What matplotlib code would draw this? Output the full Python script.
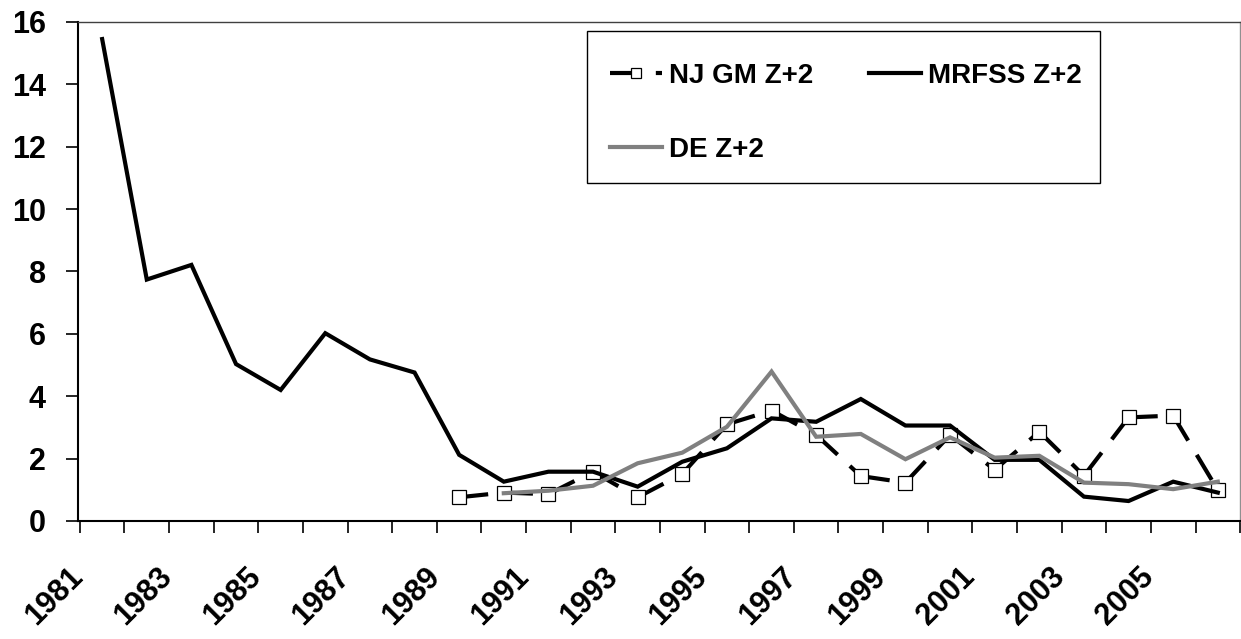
import matplotlib
matplotlib.use("Agg")
import matplotlib.pyplot as plt
from matplotlib.lines import Line2D
from matplotlib.patches import Rectangle
from matplotlib.ticker import FixedLocator
import numpy as np

plt.rcParams['font.family'] = ['Liberation Sans', 'DejaVu Sans']

# Annual index values (Z+2) by survey
years = list(range(1981, 2007))
mrfss = [15.45, 7.74, 8.21, 5.03, 4.20, 6.02, 5.18, 4.76, 2.12, 1.26, 1.58, 1.58, 1.10,
         1.90, 2.33, 3.29, 3.18, 3.91, 3.06, 3.06, 1.96, 1.96, 0.78, 0.64, 1.26, 0.91]
nj_years = list(range(1989, 2007))
nj_gm = [0.76, 0.91, 0.86, 1.58, 0.76, 1.51, 3.10, 3.54, 2.76, 1.44, 1.23, 2.76,
         1.64, 2.86, 1.45, 3.32, 3.38, 0.99]
de_years = list(range(1990, 2007))
de = [0.89, 0.97, 1.13, 1.85, 2.19, 3.02, 4.79, 2.70, 2.79, 1.98, 2.68, 2.03, 2.09,
      1.23, 1.18, 1.02, 1.26]
year_labels = [str(y) for y in years[::2]]

fig = plt.figure(figsize=(12.41, 6.39), dpi=100)
ax = fig.add_axes([0.0629, 0.1847, 0.9364, 0.781])

def pos(ys):
    return [y - years[0] for y in ys]

NJ_DASH = (7, 4)
nj_x = pos(nj_years)
# long-dash pattern restarts at every point along the NJ series
for i in range(len(nj_x) - 1):
    ax.plot(nj_x[i:i + 2], nj_gm[i:i + 2], color='black', lw=3.0, dashes=NJ_DASH,
            dash_capstyle='butt', zorder=3)
ax.plot(nj_x, nj_gm, linestyle='none', marker='s', markersize=9.4,
        markerfacecolor='white', markeredgecolor='black', markeredgewidth=0.9,
        zorder=3.5)
l_mr, = ax.plot(pos(years), mrfss, color='black', lw=3.0, zorder=4,
                label='MRFSS Z+2', solid_joinstyle='miter')
l_de, = ax.plot(pos(de_years), de, color='#808080', lw=3.0, zorder=5,
                label='DE Z+2', solid_joinstyle='miter')
l_nj = Line2D([], [], color='black', lw=3.0, dashes=NJ_DASH, marker='s',
              markersize=7, markerfacecolor='white', markeredgecolor='black',
              markeredgewidth=0.9)

ax.set_xlim(-0.5, len(years) - 0.5)
ax.set_ylim(0, 16)
ax.set_yticks(np.arange(0, 17, 2))
ax.tick_params(axis='y', length=8.6, width=1.2, pad=14.5, labelsize=22)
for t in ax.get_yticklabels():
    t.set_fontweight('bold')

# category boundaries carry the tick marks, labels sit on every other year
ax.xaxis.set_minor_locator(FixedLocator(np.arange(-0.5, len(years), 1.0)))
ax.set_xticks([p - 0.54 for p in pos(years[::2])])
ax.set_xticklabels(year_labels, rotation=45, ha='right', va='center',
                   rotation_mode='anchor', fontsize=22, fontweight='bold')
ax.tick_params(axis='x', which='major', length=0, pad=37)
ax.tick_params(axis='x', which='minor', length=8.6, width=1.2)

for side in ('left', 'bottom'):
    ax.spines[side].set_linewidth(1.5)
    ax.spines[side].set_color('black')
ax.spines['top'].set_color('#404040')
ax.spines['top'].set_linewidth(1.0)
ax.spines['right'].set_color('#909090')
ax.spines['right'].set_linewidth(1.0)

# legend frame
ax.add_patch(Rectangle((0.438, 0.6774), 0.8795 - 0.438, 0.982 - 0.6774,
                       transform=ax.transAxes, facecolor='white', edgecolor='black',
                       lw=1.0, zorder=6, clip_on=False))
leg = ax.legend(handles=[l_nj, l_de, l_mr], labels=['NJ GM Z+2', 'DE Z+2', 'MRFSS Z+2'],
                ncol=2, loc='upper left', bbox_to_anchor=(0.4578, 0.9182),
                frameon=False,
                prop={'family': 'Liberation Sans', 'weight': 'bold', 'size': 20},
                handlelength=1.87, handletextpad=0.25, columnspacing=2.0,
                labelspacing=1.73, borderpad=0, borderaxespad=0)
leg.set_zorder(7)

fig.savefig('out.png', dpi=100)
